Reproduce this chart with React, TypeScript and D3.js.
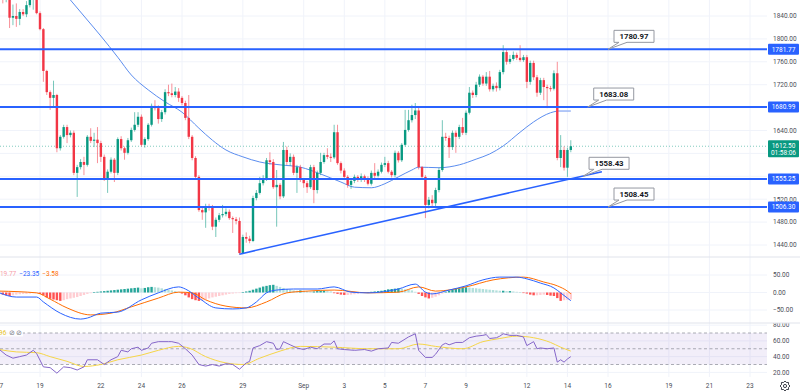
import * as d3 from 'd3';

const W = 800;
const H = 391;
const PLOT_R = 767;

// x axis: days counted from Aug 19
const dayTicks = [-2, 0, 3, 5, 7, 10, 13, 15, 17, 19, 21, 24, 26, 28, 31, 33, 35];
const dayLabels = ['17', '19', '22', '24', '26', '29', 'Sep', '3', '5', '7', '9', '12', '14', '16', '19', '21', '23'];

const priceTicks = [1440, 1480, 1520, 1560, 1600, 1640, 1680, 1720, 1760, 1800, 1840];
// labels that sit under a price box are not drawn
const hiddenPriceLabels = [1600, 1680];
const macdTicks = [50, 0, -50];
const rsiTicks = [80, 60, 40, 20];
const rsiBands = [70, 50, 30];

const levelLines = [1781.77, 1680.99, 1555.25, 1506.3];
const calloutLabels = ['1780.97', '1683.08', '1558.43', '1508.45'];
const calloutDays = [28.0, 27.0, 26.77, 28.0];
const calloutPrices = [1781.77, 1680.99, 1560, 1506.3];
const trendDays = [9.83, 27.7];
const trendPrices = [1424, 1568];
const lastPrice = 1612.5;
const countdown = '01:58:06';

// 4H candles from Aug 17 00:00 : open, high, low, close
const candles: [number, number, number, number][] = [
  [1880, 1888, 1866, 1872], [1872, 1885, 1862, 1870], [1870, 1882, 1864, 1877], [1877, 1885, 1819, 1837],
  [1837, 1860, 1824, 1840], [1840, 1862, 1821, 1835], [1835, 1852, 1824, 1847], [1847, 1852, 1840, 1843],
  [1843, 1866, 1838, 1859], [1859, 1878, 1855, 1868], [1868, 1880, 1851, 1871], [1871, 1878, 1843, 1845],
  [1845, 1848, 1815, 1817], [1817, 1819, 1725, 1744], [1744, 1746, 1702, 1707], [1707, 1710, 1676, 1697],
  [1697, 1727, 1680, 1702], [1702, 1704, 1602, 1609], [1609, 1632, 1605, 1629], [1629, 1650, 1626, 1646],
  [1646, 1650, 1618, 1632], [1632, 1640, 1628, 1636], [1636, 1640, 1562, 1566], [1566, 1580, 1524, 1576],
  [1576, 1590, 1572, 1585], [1585, 1594, 1562, 1580], [1580, 1632, 1577, 1629], [1629, 1644, 1618, 1622],
  [1622, 1636, 1611, 1624], [1624, 1646, 1583, 1618], [1618, 1622, 1585, 1594], [1594, 1598, 1552, 1557],
  [1557, 1572, 1531, 1568], [1568, 1593, 1565, 1589], [1589, 1592, 1550, 1566], [1566, 1628, 1562, 1625],
  [1625, 1630, 1605, 1609], [1609, 1612, 1589, 1601], [1601, 1627, 1598, 1623], [1623, 1645, 1620, 1641],
  [1641, 1672, 1638, 1650], [1650, 1672, 1646, 1664], [1664, 1668, 1612, 1615], [1615, 1628, 1610, 1625],
  [1625, 1653, 1622, 1650], [1650, 1687, 1647, 1683], [1683, 1693, 1675, 1679], [1679, 1684, 1652, 1660],
  [1660, 1676, 1655, 1672], [1672, 1712, 1668, 1707], [1707, 1720, 1700, 1705], [1705, 1722, 1698, 1702],
  [1702, 1716, 1698, 1708], [1708, 1714, 1690, 1697], [1697, 1700, 1684, 1688], [1688, 1692, 1658, 1662],
  [1662, 1702, 1625, 1629], [1629, 1632, 1588, 1592], [1592, 1595, 1555, 1559], [1559, 1562, 1498, 1501],
  [1501, 1505, 1484, 1497], [1497, 1512, 1470, 1508], [1508, 1512, 1500, 1506], [1506, 1510, 1466, 1472],
  [1472, 1488, 1454, 1484], [1484, 1496, 1480, 1492], [1492, 1510, 1488, 1494], [1494, 1504, 1490, 1498],
  [1498, 1502, 1484, 1487], [1487, 1490, 1461, 1485], [1485, 1489, 1476, 1482], [1482, 1488, 1423, 1426],
  [1426, 1458, 1424, 1454], [1454, 1462, 1444, 1451], [1451, 1456, 1443, 1447], [1447, 1526, 1445, 1522],
  [1522, 1536, 1518, 1531], [1531, 1559, 1528, 1548], [1548, 1562, 1544, 1556], [1556, 1592, 1552, 1588],
  [1588, 1602, 1580, 1585], [1585, 1590, 1538, 1541], [1541, 1571, 1472, 1545], [1545, 1548, 1520, 1525],
  [1525, 1620, 1522, 1606], [1606, 1612, 1580, 1585], [1585, 1600, 1578, 1594], [1594, 1598, 1562, 1566],
  [1566, 1580, 1531, 1576], [1576, 1580, 1550, 1554], [1554, 1557, 1540, 1548], [1548, 1552, 1531, 1541],
  [1541, 1580, 1538, 1576], [1576, 1580, 1513, 1536], [1536, 1570, 1530, 1566], [1566, 1601, 1562, 1585],
  [1585, 1601, 1582, 1597], [1597, 1609, 1590, 1594], [1594, 1600, 1585, 1593], [1593, 1650, 1590, 1637],
  [1637, 1650, 1580, 1583], [1583, 1586, 1565, 1570], [1570, 1574, 1554, 1559], [1559, 1562, 1540, 1545],
  [1545, 1556, 1538, 1552], [1552, 1563, 1548, 1559], [1559, 1562, 1550, 1554], [1554, 1565, 1550, 1560],
  [1560, 1563, 1550, 1555], [1555, 1560, 1544, 1547], [1547, 1570, 1544, 1566], [1566, 1583, 1557, 1561],
  [1561, 1572, 1558, 1568], [1568, 1584, 1565, 1580], [1580, 1594, 1576, 1583], [1583, 1587, 1565, 1568],
  [1568, 1571, 1558, 1562], [1562, 1605, 1558, 1601], [1601, 1604, 1584, 1588], [1588, 1618, 1585, 1615],
  [1615, 1676, 1612, 1641], [1641, 1676, 1638, 1658], [1658, 1685, 1654, 1667], [1667, 1688, 1660, 1675],
  [1675, 1680, 1572, 1576], [1576, 1578, 1554, 1559], [1559, 1562, 1487, 1510], [1510, 1524, 1504, 1519],
  [1519, 1527, 1508, 1513], [1513, 1540, 1508, 1536], [1536, 1575, 1532, 1571], [1571, 1658, 1568, 1629],
  [1629, 1636, 1622, 1627], [1627, 1631, 1592, 1611], [1611, 1640, 1606, 1636], [1636, 1640, 1601, 1629],
  [1629, 1650, 1625, 1646], [1646, 1662, 1632, 1636], [1636, 1675, 1632, 1671], [1671, 1716, 1668, 1706],
  [1706, 1710, 1697, 1702], [1702, 1725, 1698, 1720], [1720, 1738, 1716, 1734], [1734, 1737, 1718, 1722],
  [1722, 1742, 1718, 1734], [1734, 1744, 1708, 1712], [1712, 1722, 1708, 1718], [1718, 1724, 1708, 1714],
  [1714, 1746, 1710, 1742], [1742, 1789, 1738, 1777], [1777, 1782, 1755, 1760], [1760, 1772, 1756, 1765],
  [1765, 1778, 1762, 1772], [1772, 1776, 1763, 1767], [1767, 1789, 1760, 1763], [1763, 1772, 1760, 1768],
  [1768, 1772, 1714, 1725], [1725, 1762, 1720, 1758], [1758, 1762, 1728, 1733], [1733, 1737, 1699, 1706],
  [1706, 1732, 1702, 1728], [1728, 1732, 1693, 1716], [1716, 1720, 1679, 1714], [1714, 1718, 1708, 1713],
  [1713, 1745, 1710, 1740], [1740, 1760, 1588, 1592], [1592, 1632, 1576, 1606], [1606, 1612, 1570, 1575],
  [1575, 1610, 1559, 1606], [1606, 1623, 1602, 1612.5],
];

// moving average read at candle indices
const maPoints: [number, number][] = [
  [18, 1889], [21, 1868], [26, 1833], [30, 1805], [35, 1768], [39, 1737], [44, 1711], [49, 1690],
  [54, 1672], [59, 1644], [63, 1623], [67, 1606], [72, 1594], [77, 1585], [83, 1580], [89, 1576],
  [95, 1564], [101, 1550], [105, 1541], [110, 1540], [114, 1547], [118, 1559], [122, 1571], [124, 1576],
  [130, 1575], [136, 1580], [141, 1590], [145, 1599], [149, 1613], [154, 1637], [158, 1655], [163, 1671],
  [165, 1674],
];
const maTail: [number, number][] = [[165, 1674], [169, 1674]];

const macdPoints: [number, number][] = [
  [0, -1], [5, -13], [11, -13], [13, -27], [18, -59], [24, -76], [26, -73], [30, -59], [35, -56],
  [42, -21], [47, -1], [53, 16], [55, 10], [59, -16], [64, -44], [69, -47], [73, -44], [76, -27],
  [79, -1], [82, 7], [87, 10], [94, 10], [99, 16], [104, 1], [109, -1], [118, 10], [123, 24], [126, 1],
  [128, -4], [133, 7], [138, 19], [143, 36], [148, 44], [153, 44], [156, 39], [160, 27], [164, 13],
  [166, -1], [168, -16], [169, -23.35],
];
const signalPoints: [number, number][] = [
  [0, 4], [11, -1], [15, -19], [20, -44], [27, -64], [33, -59], [39, -41], [47, -16], [53, 1], [57, -1],
  [61, -21], [67, -39], [73, -44], [79, -27], [85, -1], [91, 4], [99, 7], [109, -1], [118, 1], [124, 16],
  [129, 4], [138, 16], [146, 36], [155, 44], [161, 30], [165, 19], [168, 4], [169, -3.58],
];
const histValues = [
  -3, -6, -8, -10, -8, -6, -5, -4, -4, -3, -2, -2, -4,
  -8, -14, -18, -20, -22, -24, -22, -19, -17, -15, -13, -10, -7, -4, -2, 1,
  2, 3, 4, 5, 6, 7, 8, 9, 10, 11, 12, 13, 14, 12, 13, 15, 16, 15, 14,
  12, 10, 8, 6, 4, 2, -3, -8, -14, -19, -22, -24, -23, -20,
  -17, -14, -12, -10, -8, -6, -4, -3, -2, -1, 1, 3,
  5, 8, 11, 14, 17, 19, 21, 22, 19, 16, 13, 10, 8,
  6, 5, 6, 5, 4, 3, 3, 4, 5, 5, 4, 3, -2, -4, -6, -7, -7, -6, -5, -4,
  -2, -1, 1, 2, 3, 4, 5, 7, 9, 10, 11, 12, 11, 9, 8, 6,
  2, -4, -10, -14, -17, -15, -12, -8, -3, 2, 5, 8, 10, 12, 14, 15,
  14, 13, 12, 11, 10, 9, 8, 7, 6, 5, 5, 4, 4, 3, 2, 1,
  -1, -3, -6, -8, -8, -7, -6, -7, -9, -10, -16, -24, -22, -21, -19.77,
];

const rsiPoints: [number, number][] = [
  [0, 49], [2, 42], [4, 38], [6, 40], [8, 42], [10, 48], [11, 44], [13, 27], [15, 26], [17, 19],
  [19, 27], [21, 26], [23, 23], [25, 27], [26, 36], [29, 36], [31, 30], [33, 36], [35, 40], [36, 48],
  [38, 46], [39, 50], [41, 52], [42, 48], [44, 51], [45, 57], [47, 59], [50, 59], [51, 59], [53, 57],
  [55, 50], [57, 42], [59, 30], [61, 28], [63, 30], [65, 28], [67, 31], [69, 30], [71, 24], [73, 32],
  [74, 34], [75, 51], [77, 54], [79, 59], [81, 57], [82, 49], [83, 50], [84, 59], [86, 55], [88, 51],
  [90, 49], [92, 52], [94, 50], [96, 56], [98, 56], [99, 60], [100, 50], [102, 49], [105, 48], [108, 49],
  [110, 47], [112, 50], [115, 51], [116, 58], [118, 57], [121, 65], [123, 69], [124, 48], [126, 39],
  [128, 39], [129, 43], [131, 55], [132, 57], [133, 55], [135, 58], [137, 58], [138, 61], [139, 64],
  [141, 66], [143, 67], [144, 68], [145, 63], [147, 64], [148, 66], [149, 69], [151, 67], [153, 67],
  [155, 65], [156, 54], [158, 59], [159, 50], [160, 51], [162, 50], [164, 51], [165, 33], [166, 36],
  [167, 33], [168, 37], [169, 40],
];
const rsiMaPoints: [number, number][] = [
  [0, 49], [5, 46], [11, 45], [15, 40], [20, 34], [25, 27.5], [30, 30], [35, 36], [42, 42], [47, 48],
  [53, 53], [56, 51], [61, 40], [67, 32], [72, 30], [77, 38], [83, 47], [89, 53], [99, 52], [109, 50],
  [118, 50], [124, 56], [129, 53], [137, 50], [143, 59], [148, 63], [153, 66], [158, 64], [163, 58],
  [166, 52], [169, 47],
];

const GREEN = '#089981';
const RED = '#f23645';
const BLUE = '#2962ff';
const GRID = '#f0f3fa';
const AXIS_TEXT = '#4a4d57';
const FONT = 'Roboto, "Liberation Sans", sans-serif';

const x = d3.scaleLinear().domain([0, 35]).range([40, 750]);
const y = d3.scaleLinear().domain([1440, 1840]).range([245, 16]);
const yM = d3.scaleLinear().domain([-50, 50]).range([310, 275]);
const yR = d3.scaleLinear().domain([30, 70]).range([364.5, 333]);
const dayOf = (i: number) => -2 + i / 6;

const priceLine = d3.line<[number, number]>().x(d => x(dayOf(d[0]))).y(d => y(d[1])).curve(d3.curveMonotoneX);
const macdLine = d3.line<[number, number]>().x(d => x(dayOf(d[0]))).y(d => yM(d[1])).curve(d3.curveMonotoneX);
const rsiLine = d3.line<[number, number]>().x(d => x(dayOf(d[0]))).y(d => yR(d[1]));
const rsiMaLine = d3.line<[number, number]>().x(d => x(dayOf(d[0]))).y(d => yR(d[1])).curve(d3.curveMonotoneX);

const histColor = (v: number, prev: number) => {
  if (v >= 0) return v >= prev ? '#26a69a' : '#b2dfdb';
  return v < prev ? '#ff5252' : '#ffcdd2';
};

const gearPath = () => {
  const pts = d3.range(16).map(k => {
    const a = (k / 16) * Math.PI * 2;
    const r = k % 2 === 0 ? 5 : 3.8;
    return [785 + r * Math.cos(a), 386 + r * Math.sin(a)] as [number, number];
  });
  return d3.line()(pts) + 'Z';
};

export default function App() {
  const bodyW = 2.4;
  return (
    <div style={{ position: 'absolute', left: 0, top: 0, width: W, height: H, background: '#fff' }}>
      <svg width={W} height={H} style={{ display: 'block', fontFamily: FONT }}>
        <defs>
          <clipPath id="mainClip"><rect x={0} y={0} width={PLOT_R} height={257} /></clipPath>
          <clipPath id="macdClip"><rect x={0} y={257.5} width={PLOT_R} height={65} /></clipPath>
          <clipPath id="rsiClip"><rect x={0} y={323.5} width={PLOT_R} height={53} /></clipPath>
          <clipPath id="rsiAxisClip"><rect x={PLOT_R} y={323.5} width={W - PLOT_R} height={53} /></clipPath>
        </defs>
        <rect x={0} y={0} width={W} height={H} fill="#fff" />

        {/* vertical grid */}
        {dayTicks.map((d, i) => (
          <line key={'vg' + i} x1={x(d)} x2={x(d)} y1={0} y2={377} stroke={GRID} strokeWidth={1} />
        ))}
        {/* horizontal grid */}
        {priceTicks.map(p => (
          <line key={'hg' + p} x1={0} x2={PLOT_R} y1={y(p)} y2={y(p)} stroke={GRID} />
        ))}
        {macdTicks.map(v => (
          <line key={'mg' + v} x1={0} x2={PLOT_R} y1={yM(v)} y2={yM(v)} stroke={GRID} />
        ))}
        {rsiTicks.map(v => (
          <line key={'rg' + v} x1={0} x2={PLOT_R} y1={yR(v)} y2={yR(v)} stroke={GRID} clipPath="url(#rsiClip)" />
        ))}

        {/* panel separators */}
        <line x1={0} x2={W} y1={257} y2={257} stroke="#e0e3eb" />
        <line x1={0} x2={W} y1={323} y2={323} stroke="#e0e3eb" />

        {/* main panel */}
        <g clipPath="url(#mainClip)">
          <line x1={0} x2={PLOT_R} y1={y(lastPrice)} y2={y(lastPrice)} stroke={GREEN} strokeOpacity={0.5} strokeDasharray="1,2" />
          <path d={priceLine(maPoints) || ''} fill="none" stroke="#5b8def" strokeWidth={1} />
          <path d={d3.line<[number, number]>().x(d => x(dayOf(d[0]))).y(d => y(d[1]))(maTail) || ''} fill="none" stroke="#9bb6f5" strokeWidth={1.5} />
          {candles.map((c, i) => {
            const [o, h, l, cl] = c;
            const cx = x(dayOf(i));
            const col = cl >= o ? GREEN : RED;
            const top = y(Math.max(o, cl));
            const bh = Math.max(1, y(Math.min(o, cl)) - top);
            return (
              <g key={'c' + i}>
                <line x1={cx} x2={cx} y1={y(h)} y2={y(l)} stroke={col} strokeWidth={1} strokeOpacity={0.55} />
                <rect x={cx - bodyW / 2} y={top} width={bodyW} height={bh} fill={col} />
              </g>
            );
          })}
          {levelLines.map(p => (
            <line key={'lv' + p} x1={0} x2={PLOT_R} y1={y(p)} y2={y(p)} stroke={BLUE} strokeWidth={2} />
          ))}
          <line
            x1={x(trendDays[0])} y1={y(trendPrices[0])}
            x2={x(trendDays[1])} y2={y(trendPrices[1])}
            stroke={BLUE} strokeWidth={1.5}
          />
          {calloutLabels.map((lab, i) => {
            const tx = x(calloutDays[i]);
            const ty = y(calloutPrices[i]);
            const bx = tx + 6;
            const by = ty - 19;
            const bw = 40;
            const bh = 12;
            const d = `M${bx},${by} h${bw} v${bh} H${bx + 13} L${tx},${ty} L${bx + 5},${by + bh} H${bx} Z`;
            return (
              <g key={'co' + i}>
                <path d={d} fill="#fff" stroke="#9598a1" strokeWidth={1} />
                <text x={bx + bw / 2} y={by + bh / 2 + 2.7} textAnchor="middle" fontSize={7.8} fontWeight={700} fill="#131722">
                  {lab}
                </text>
              </g>
            );
          })}
        </g>

        {/* MACD panel */}
        <g clipPath="url(#macdClip)">
          {histValues.map((v, i) => {
            const cx = x(dayOf(i));
            const prev = i > 0 ? histValues[i - 1] : v;
            const y0 = yM(0);
            const y1 = yM(v);
            return (
              <rect key={'h' + i} x={cx - 1.2} y={Math.min(y0, y1)} width={2.4} height={Math.max(0.6, Math.abs(y1 - y0))} fill={histColor(v, prev)} />
            );
          })}
          <path d={macdLine(signalPoints) || ''} fill="none" stroke="#ff6d00" strokeWidth={1} />
          <path d={macdLine(macdPoints) || ''} fill="none" stroke={BLUE} strokeWidth={1} />
          <text x={-3.8} y={276} fontSize={6.5}>
            <tspan fill="#f7a1aa">−19.77</tspan>
            <tspan dx={3} fill={BLUE}>−23.35</tspan>
            <tspan dx={3} fill="#ff6d00">−3.58</tspan>
          </text>
        </g>

        {/* RSI panel */}
        <g clipPath="url(#rsiClip)">
          <rect x={0} y={yR(70)} width={PLOT_R} height={yR(30) - yR(70)} fill="#7e57c2" fillOpacity={0.1} />
          {rsiBands.map(v => (
            <line key={'rb' + v} x1={0} x2={PLOT_R} y1={yR(v)} y2={yR(v)} stroke="#9598a1" strokeDasharray="3,2.5" strokeWidth={0.8} />
          ))}
          <path d={rsiMaLine(rsiMaPoints) || ''} fill="none" stroke="#f5d547" strokeWidth={1} />
          <path d={rsiLine(rsiPoints) || ''} fill="none" stroke="#8566c9" strokeWidth={1} />
          <rect x={0} y={328.5} width={23} height={8} fill="#fff" fillOpacity={0.85} />
          <text x={-10} y={335} fontSize={6.5}>
            <tspan fill="#e9c42a">47.96</tspan>
            <tspan dx={2.5} fill="#787b86">⊘ ⊘</tspan>
          </text>
        </g>

        {/* right price axis */}
        {priceTicks.filter(p => !hiddenPriceLabels.includes(p)).map(p => (
          <text key={'pt' + p} x={773} y={y(p) + 2.3} fontSize={6.5} fill={AXIS_TEXT}>{p.toFixed(2)}</text>
        ))}
        {macdTicks.map(v => (
          <text key={'mt' + v} x={773} y={yM(v) + 2.3} fontSize={6.5} fill={AXIS_TEXT}>{v < 0 ? '−' + Math.abs(v).toFixed(2) : v.toFixed(2)}</text>
        ))}
        <g clipPath="url(#rsiAxisClip)">
          {rsiTicks.map(v => (
            <text key={'rt' + v} x={773} y={yR(v) + 2.3} fontSize={6.5} fill={AXIS_TEXT}>{v.toFixed(2)}</text>
          ))}
        </g>

        {levelLines.map(p => (
          <g key={'lb' + p}>
            <rect x={768} y={y(p) - 5.5} width={31} height={11} fill={BLUE} rx={1} />
            <text x={783.5} y={y(p) + 2.3} textAnchor="middle" fontSize={6.5} fill="#fff">{p.toFixed(2)}</text>
          </g>
        ))}
        <rect x={768} y={y(lastPrice) - 6} width={31} height={17} fill={GREEN} rx={1} />
        <text x={783.5} y={y(lastPrice) + 1.6} textAnchor="middle" fontSize={6.5} fill="#fff">{lastPrice.toFixed(2)}</text>
        <text x={783.5} y={y(lastPrice) + 8.6} textAnchor="middle" fontSize={6.5} fill="#fff">{countdown}</text>

        {/* time axis */}
        {dayTicks.map((d, i) => (
          <text key={'xt' + i} x={x(d)} y={388} textAnchor="middle" fontSize={6.5} fill={AXIS_TEXT}>{dayLabels[i]}</text>
        ))}
        <path d={gearPath()} fill="none" stroke="#131722" strokeWidth={0.8} />
        <circle cx={785} cy={386} r={1.6} fill="none" stroke="#131722" strokeWidth={0.8} />
      </svg>
    </div>
  );
}
